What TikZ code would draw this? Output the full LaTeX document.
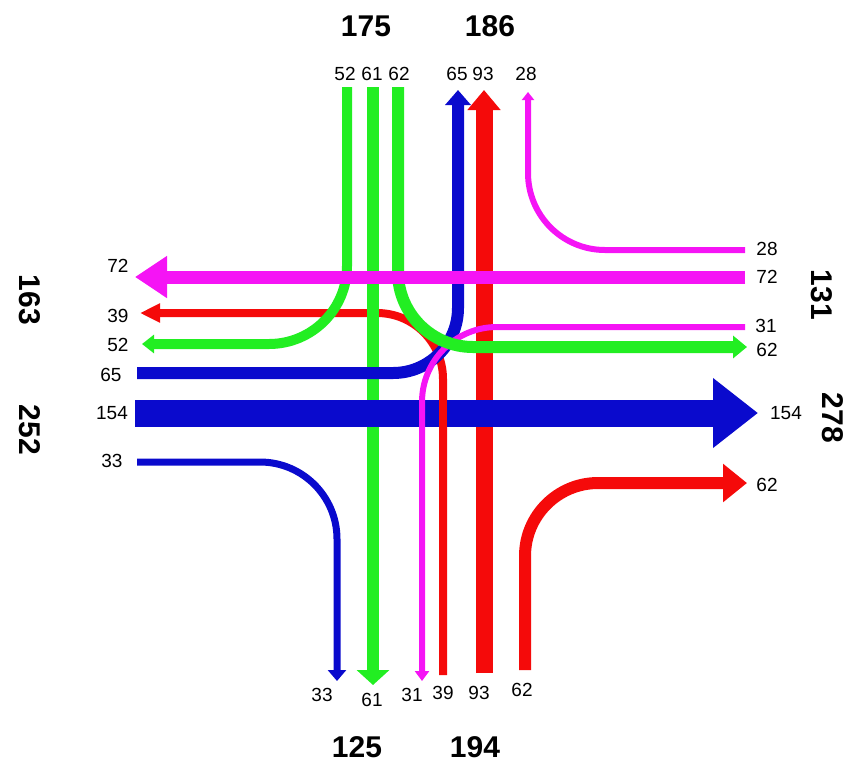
\documentclass[tikz,border=0pt]{standalone}
\usepackage{fontspec}
\setmainfont{Liberation Sans}
\usetikzlibrary{arrows.meta}
\definecolor{fgreen}{RGB}{34,238,34}
\definecolor{fmag}{RGB}{245,20,245}
\definecolor{fblue}{RGB}{10,10,205}
\definecolor{fred}{RGB}{245,10,10}
\begin{document}
\begin{tikzpicture}[x=1pt,y=-1pt,
	lbl/.style={font=\fontsize{19}{22}\selectfont,inner sep=0pt},
	big/.style={font=\fontsize{30}{36}\selectfont\bfseries,inner sep=0pt}]
	\useasboundingbox (0,0) rectangle (856,772);
	% lanes, bottom layer first
	\draw[fred,line width=17pt,-{Triangle[width=32pt,length=20pt]}] (484,673)--(484,90);
	\draw[fred,line width=8pt,rounded corners=66pt,-{Triangle[width=18pt,length=20pt]}] (443,675)--(443,313)--(140,313);
	\draw[fgreen,line width=12pt,-{Triangle[width=32pt,length=15pt]}] (373,87)--(373,685);
	\draw[fblue,line width=12pt,rounded corners=65pt,-{Triangle[width=25pt,length=15pt]}] (137,373)--(458,373)--(458,90);
	\draw[fblue,line width=27pt,-{Triangle[width=67pt,length=45pt]}] (135,413)--(758,413);
	\draw[fred,line width=8pt] (443,440)--(443,390);
	\draw[fmag,line width=6pt,rounded corners=75pt,-{Triangle[width=14pt,length=10pt]}] (745,327)--(422,327)--(422,681);
	\draw[fgreen,line width=12pt,rounded corners=75pt,-{Triangle[width=22pt,length=14pt]}] (398,87)--(398,347)--(747,347);
	\draw[fgreen,line width=10pt,rounded corners=78pt,-{Triangle[width=18pt,length=12pt]}] (347,87)--(347,344)--(142,344);
	\draw[fmag,line width=13pt,-{Triangle[width=40pt,length=32pt]}] (745,277)--(135,277);
	\draw[fmag,line width=6pt,rounded corners=77pt,-{Triangle[width=12pt,length=8pt]}] (745,250)--(528,250)--(528,92);
	\draw[fblue,line width=7pt,rounded corners=77pt,-{Triangle[width=18pt,length=11pt]}] (137,462)--(337,462)--(337,681);
	\draw[fred,line width=12pt,rounded corners=73pt,-{Triangle[width=37pt,length=24pt]}] (525,670)--(525,483)--(747,483);

	% north
	\node[big] (n1) at (366,26) {175};
	\node[big] (n2) at (490,26) {186};
	\node[lbl] (n52) at (345,74) {52};
	\node[lbl] (n61) at (372,74) {61};
	\node[lbl] (n62) at (399,74) {62};
	\node[lbl] (n65) at (457,74) {65};
	\node[lbl] (n93) at (483,74) {93};
	\node[lbl] (n28) at (526,74) {28};
	% west
	\node[big,rotate=-90] (w1) at (30,300) {163};
	\node[big,rotate=-90] (w2) at (30,430) {252};
	\node[lbl] (w72) at (118,266) {72};
	\node[lbl] (w39) at (118,316) {39};
	\node[lbl] (w52) at (118,345) {52};
	\node[lbl] (w65) at (111,375) {65};
	\node[lbl] (w154) at (112,413) {154};
	\node[lbl] (w33) at (112,461) {33};
	% east
	\node[big,rotate=-90] (e1) at (822,295) {131};
	\node[big,rotate=-90] (e2) at (833,418) {278};
	\node[lbl] (e28) at (767,249) {28};
	\node[lbl] (e72) at (767,277) {72};
	\node[lbl] (e31) at (766,326) {31};
	\node[lbl] (e62) at (767,350) {62};
	\node[lbl] (e154) at (786,413) {154};
	\node[lbl] (e62b) at (767,485) {62};
	% south
	\node[lbl] (s33) at (322,695) {33};
	\node[lbl] (s61) at (372,700) {61};
	\node[lbl] (s31) at (412,695) {31};
	\node[lbl] (s39) at (443,693) {39};
	\node[lbl] (s93) at (479,693) {93};
	\node[lbl] (s62) at (522,690) {62};
	\node[big] (s1) at (357,747) {125};
	\node[big] (s2) at (475,747) {194};
\end{tikzpicture}
\end{document}
